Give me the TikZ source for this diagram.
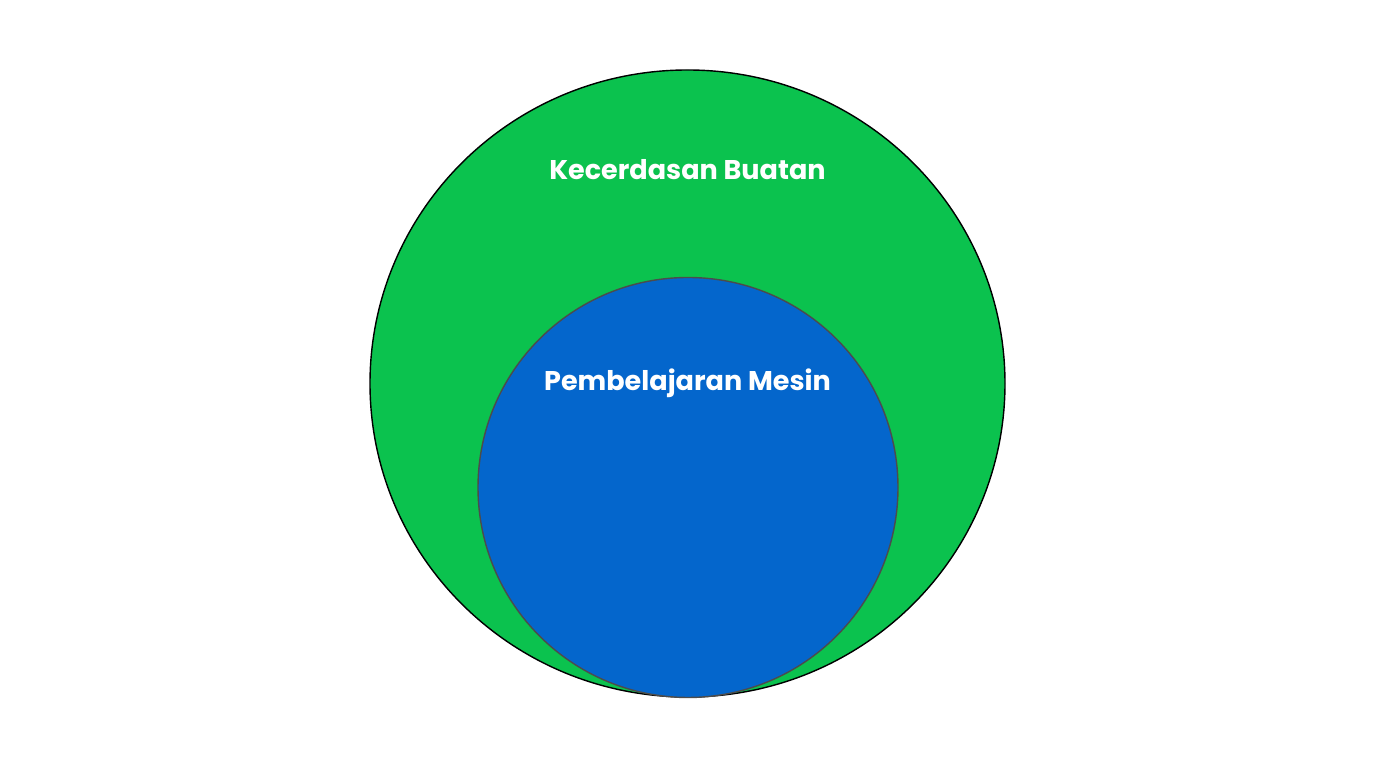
\documentclass[tikz,border=0pt]{standalone}
\usepackage{fontspec}
\setmainfont{Poppins}
\usetikzlibrary{positioning,shapes.geometric}
\definecolor{aigreen}{RGB}{11,194,78}
\definecolor{mlblue}{RGB}{4,102,204}

\begin{document}
\begin{tikzpicture}[node distance=1cm,auto]
  \useasboundingbox (0,0) rectangle (13.76,7.68);
  \fill[white] (0,0) rectangle (13.76,7.68);

  \node[ellipse, draw=black, fill=aigreen, inner sep=0pt, minimum width=6.35cm, minimum height=6.27cm] (ai) at (6.875,3.845) {};
  \node[circle, draw=black!70, fill=mlblue, inner sep=0pt, minimum size=4.2cm] (ml) at (6.88,2.805) {};

  \node[below=1cm of ai.north, anchor=center, text=white, font=\fontsize{7.7}{9}\selectfont\bfseries] (ai_lbl) {Kecerdasan Buatan};
  \node[text=white, font=\fontsize{7.7}{9}\selectfont\bfseries] (ml_lbl) at (ai.center) {Pembelajaran Mesin};

\end{tikzpicture}
\end{document}
